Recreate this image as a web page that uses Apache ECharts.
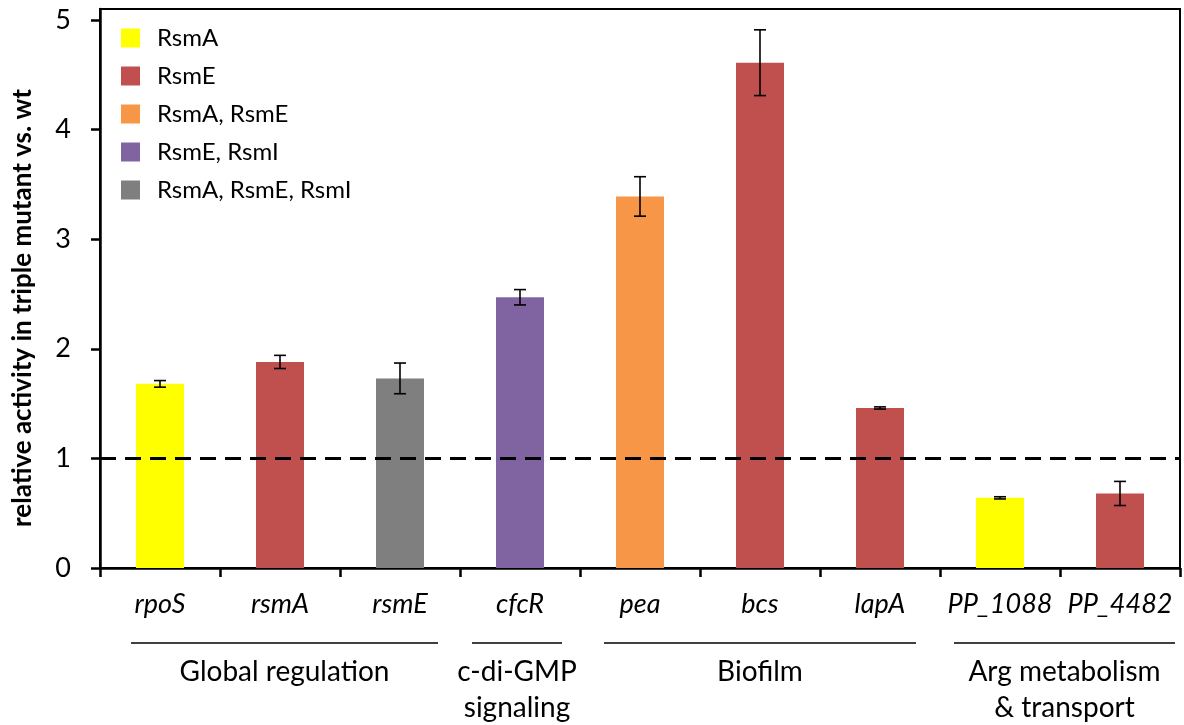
<!DOCTYPE html>
<html>
<head>
<meta charset="utf-8">
<script src="https://cdn.jsdelivr.net/npm/echarts@6/dist/echarts.min.js"></script>
<style>
  html, body { margin: 0; padding: 0; background: #fff; }
  #chart { width: 1184px; height: 725px; }
</style>
</head>
<body>
<div id="chart"></div>
<script>
// 基因（x轴类目）
const genes = ["rpoS", "rsmA", "rsmE", "cfcR", "pea", "bcs", "lapA", "PP_1088", "PP_4482"];
// 相对活性
const activity = [1.68, 1.88, 1.73, 2.47, 3.39, 4.61, 1.46, 0.64, 0.68];
// 误差（±）
const errors = [0.03, 0.06, 0.14, 0.07, 0.18, 0.30, 0.01, 0.01, 0.11];
// 每个基因所属的调控蛋白组合
const regulator = ["RsmA", "RsmE", "RsmA, RsmE, RsmI", "RsmE, RsmI", "RsmA, RsmE", "RsmE", "RsmE", "RsmA", "RsmE"];
// 图例
const regulatorNames = ["RsmA", "RsmE", "RsmA, RsmE", "RsmE, RsmI", "RsmA, RsmE, RsmI"];
const regulatorColors = ["#FFFF00", "#C0504D", "#F79646", "#8064A2", "#7F7F7F"];
// 功能分组（起止类目）
const groups = [
  { lines: ["Global regulation"], from: 0, to: 2 },
  { lines: ["c-di-GMP", "signaling"], from: 3, to: 3 },
  { lines: ["Biofilm"], from: 4, to: 6 },
  { lines: ["Arg metabolism", "& transport"], from: 7, to: 8 },
];
// 分组横线左右缩进（px）
const groupPads = [[29, 38], [48, 42], [36, 36], [46, 55]];

const yName = "relative activity in triple mutant vs. wt";
const font = "Lato, 'Open Sans', sans-serif";

const chart = echarts.init(document.getElementById("chart"));

const barSeries = regulatorNames.map((name, k) => ({
  name: name,
  type: "bar",
  stack: "all",
  barWidth: 48,
  itemStyle: { color: regulatorColors[k] },
  data: activity.map((v, i) => (regulator[i] === name ? v : "-")),
}));

// 1 的虚线
barSeries[0].markLine = {
  silent: true,
  symbol: ["none", "none"],
  label: { show: false },
  lineStyle: { type: [16, 9], width: 3, color: "#000" },
  data: [{ yAxis: 1 }],
  z: 10,
};

const errorSeries = {
  type: "custom",
  z: 5,
  renderItem: (params, api) => {
    const x = api.value(0);
    const lo = api.coord([x, api.value(1)]);
    const hi = api.coord([x, api.value(2)]);
    const cap = 6;
    const style = { stroke: "#000", lineWidth: 1.6 };
    return {
      type: "group",
      children: [
        { type: "line", shape: { x1: lo[0], y1: lo[1], x2: hi[0], y2: hi[1] }, style },
        { type: "line", shape: { x1: lo[0] - cap, y1: lo[1], x2: lo[0] + cap, y2: lo[1] }, style },
        { type: "line", shape: { x1: hi[0] - cap, y1: hi[1], x2: hi[0] + cap, y2: hi[1] }, style },
      ],
    };
  },
  data: activity.map((v, i) => [i, v - errors[i], v + errors[i]]),
};

const option = {
  animation: false,
  textStyle: { fontFamily: font },
  grid: {
    left: 100,
    right: 4,
    top: 9,
    bottom: 157,
    outerBoundsMode: "none",
    show: true,
    borderColor: "#000",
    borderWidth: 2,
  },
  legend: {
    orient: "vertical",
    left: 121,
    top: 26,
    padding: 0,
    icon: "rect",
    itemWidth: 19,
    itemHeight: 19,
    itemGap: 14,
    data: regulatorNames,
    textStyle: { fontSize: 24, color: "#000", padding: [0, 0, 0, 12], fontFamily: font },
  },
  xAxis: {
    type: "category",
    data: genes,
    axisLine: { lineStyle: { color: "#000", width: 2.5 } },
    axisTick: { show: true, length: 9, lineStyle: { color: "#000", width: 2.5 } },
    axisLabel: {
      interval: 0,
      fontSize: 27,
      fontStyle: "italic",
      color: "#000",
      margin: 23,
      fontFamily: font,
    },
  },
  yAxis: {
    type: "value",
    min: 0,
    max: 5.1,
    interval: 1,
    splitLine: { show: false },
    axisLine: { show: true, lineStyle: { color: "#000", width: 2.5 } },
    axisTick: { show: true, length: 9, lineStyle: { color: "#000", width: 2.5 }, customValues: [0, 1, 2, 3, 4, 5] },
    axisLabel: { fontSize: 27, color: "#000", margin: 29, fontFamily: font, customValues: [0, 1, 2, 3, 4, 5] },
  },
  series: [...barSeries, errorSeries],
};

chart.setOption(option);

// y轴标题 + 底部功能分组标注
const graphics = [{
  type: "text",
  x: 23,
  y: 308,
  rotation: Math.PI / 2,
  style: {
    text: yName,
    fontSize: 26,
    fontWeight: "bold",
    fontFamily: font,
    fill: "#000",
    align: "center",
    verticalAlign: "middle",
  },
}];
groups.forEach((g, k) => {
  const x1 = chart.convertToPixel({ xAxisIndex: 0 }, g.from) - groupPads[k][0];
  const x2 = chart.convertToPixel({ xAxisIndex: 0 }, g.to) + groupPads[k][1];
  graphics.push({
    type: "line",
    shape: { x1: x1, y1: 643, x2: x2, y2: 643 },
    style: { stroke: "#000", lineWidth: 1.5 },
  });
  g.lines.forEach((t, j) => {
    graphics.push({
      type: "text",
      x: (x1 + x2) / 2,
      y: 672 + j * 36,
      style: {
        text: t,
        fontSize: 28,
        fontFamily: font,
        fill: "#000",
        align: "center",
        verticalAlign: "middle",
      },
    });
  });
});
chart.setOption({ graphic: graphics });
</script>
</body>
</html>
